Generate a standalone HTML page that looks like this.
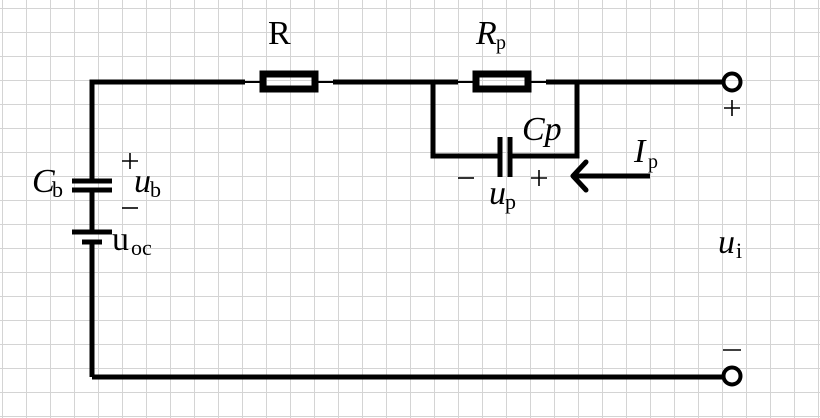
<!DOCTYPE html>
<html><head><meta charset="utf-8"><style>
html,body{margin:0;padding:0;background:#fff}
svg{display:block}
text{font-family:"Liberation Serif",serif;fill:#000}
</style></head><body>
<svg width="820" height="418" viewBox="0 0 820 418" xmlns="http://www.w3.org/2000/svg">
<defs><pattern id="g" x="2" y="8" width="24" height="24" patternUnits="userSpaceOnUse">
<path d="M0 0.5H24M0.5 0V24" stroke="#d4d4d4" stroke-width="1" fill="none"/></pattern></defs>
<rect width="820" height="418" fill="url(#g)"/>
<g stroke="#000" stroke-width="5" fill="none" stroke-linecap="butt">
<path d="M92 377V242M92 232V190M92 181V82H245"/>
<path d="M245 82H260M318 82H333" stroke-width="2"/>
<path d="M333 82H458"/>
<path d="M458 82H473M531 82H546" stroke-width="2"/>
<path d="M546 82H723"/>
<rect x="263" y="74" width="52" height="15" stroke-width="7"/>
<rect x="476" y="74" width="52" height="15" stroke-width="7"/>
<path d="M433 82V156H500M510 156H577V82"/>
<path d="M500 137V177M510 137V177"/>
<path d="M72 181H112M72 190H112"/>
<path d="M72 232H112M82 242H102"/>
<path d="M92 377H723"/>
<circle cx="732" cy="82" r="8.5" stroke-width="4"/>
<circle cx="732" cy="376" r="8.5" stroke-width="4"/>
<path d="M650 176H575"/>
<path d="M586 162L573 176L586 190" stroke-linecap="round" stroke-linejoin="round"/>
</g>
<g font-size="34">
<text x="268" y="44">R</text>
<text x="476" y="44" font-style="italic">R</text><text x="496" y="49" font-size="20">p</text>
<text x="522" y="140" font-style="italic">Cp</text>
<text x="634" y="162" font-style="italic">I</text><text x="648" y="168" font-size="20">p</text>
<text x="718" y="253" font-style="italic">u</text><text x="736" y="258" font-size="22">i</text>
<text x="32" y="192" font-style="italic">C</text><text x="52" y="197" font-size="22">b</text>
<text x="134" y="192" font-style="italic">u</text><text x="150" y="197" font-size="22">b</text>
<text x="112" y="250">u</text><text x="131" y="255" font-size="22">oc</text>
<text x="489" y="204" font-style="italic">u</text><text x="505" y="209" font-size="22">p</text>
</g>
<g stroke="#000" stroke-width="1.6">
<path d="M122 161H138M130 153V169"/>
<path d="M122 208H138"/>
<path d="M458 178H474"/>
<path d="M531 178H547M539 170V186"/>
<path d="M724 108H740M732 100V116"/>
<path d="M723 350H741"/>
</g>
</svg>
</body></html>
